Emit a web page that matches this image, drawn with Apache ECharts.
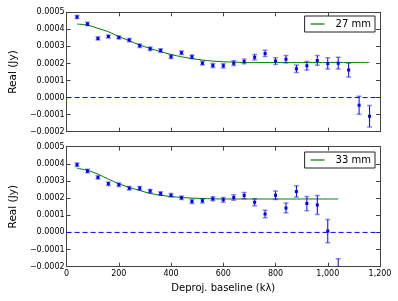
<!DOCTYPE html>
<html><head><meta charset="utf-8">
<script src="https://cdn.jsdelivr.net/npm/echarts@6/dist/echarts.min.js"></script>
<style>html,body{margin:0;padding:0;background:#fff}#c{width:398px;height:301px}</style>
</head><body><div id="c"></div>
<script>
const xTop = [40,80,120,160,200,240,280,320,360,400,440,480,520,560,600,640,680,720,760,800,840,880,920,960,1000,1040,1080,1120,1160];
const realTop = [0.000472,0.000432,0.000347,0.000358,0.000352,0.000337,0.000304,0.000286,0.000276,0.000239,0.000263,0.000239,0.000202,0.000188,0.000186,0.000202,0.000212,0.000237,0.000259,0.000214,0.000225,0.000169,0.000186,0.000218,0.000200,0.000202,0.000161,-0.000045,-0.000110];
const errTop = [0.000009,0.000009,0.000009,0.000009,0.000009,0.000009,0.00001,0.00001,0.00001,0.00001,0.00001,0.000011,0.000011,0.000012,0.000012,0.000014,0.000014,0.000016,0.000018,0.00002,0.000022,0.000022,0.000025,0.000029,0.000033,0.000035,0.000041,0.000053,0.000063];
const modelTop = [0.000431,0.000425,0.000406,0.000386,0.000358,0.000333,0.000308,0.000288,0.000269,0.000253,0.000239,0.000229,0.000220,0.000214,0.000210,0.000208,0.000206,0.000206,0.000206,0.000206,0.000206,0.000206,0.000206,0.000206,0.000206,0.000206,0.000206,0.000206,0.000206];

const xBot = [40,80,120,160,200,240,280,320,360,400,440,480,520,560,600,640,680,720,760,800,840,880,920,960,1000,1040];
const realBot = [0.000395,0.000358,0.000321,0.000284,0.000278,0.000258,0.000258,0.000241,0.000227,0.000217,0.000202,0.000180,0.000184,0.000196,0.000190,0.000204,0.000215,0.000176,0.000108,0.000217,0.000143,0.000239,0.000168,0.000160,0.000008,-0.000233];
const errBot = [0.00001,0.00001,0.00001,0.00001,0.00001,0.00001,0.00001,0.00001,0.00001,0.00001,0.00001,0.000012,0.000012,0.000012,0.000014,0.000016,0.000018,0.00002,0.000022,0.000025,0.000029,0.000033,0.000041,0.000055,0.000068,0.00008];
const modelBot = [0.000374,0.000362,0.000340,0.000311,0.000284,0.000262,0.000245,0.000227,0.000217,0.000209,0.000204,0.000200,0.000198,0.000196,0.000195,0.000195,0.000195,0.000195,0.000195,0.000195,0.000195,0.000195,0.000195,0.000195,0.000195,0.000195];

const legendTop = '27 mm';
const legendBot = '33 mm';
const yLabel = 'Real (Jy)';
const xLabel = 'Deproj. baseline (kλ)';

const FONT = 'DejaVu Sans';
const AX = '#444';

function renderErr(params, api) {
  const x = api.value(0), y = api.value(1), e = api.value(2);
  const p = api.coord([x, y]);
  const hi = api.coord([x, y + e]);
  const lo = api.coord([x, y - e]);
  const cw = 2.5;
  return {type: 'group', children: [
    {type: 'line', shape: {x1: p[0], y1: hi[1], x2: p[0], y2: lo[1]}, style: {stroke: '#0000ff', lineWidth: 1}},
    {type: 'line', shape: {x1: p[0] - cw, y1: hi[1], x2: p[0] + cw, y2: hi[1]}, style: {stroke: 'rgba(0,0,255,0.45)', lineWidth: 1.5}},
    {type: 'line', shape: {x1: p[0] - cw, y1: lo[1], x2: p[0] + cw, y2: lo[1]}, style: {stroke: 'rgba(0,0,255,0.45)', lineWidth: 1.5}},
    {type: 'rect', shape: {x: p[0] - 1.5, y: p[1] - 1.5, width: 3, height: 3}, style: {fill: '#0000ff'}}
  ]};
}

function fmtY(v) {
  const r = Math.round(v * 10000) / 10000;
  let s = Math.abs(r).toFixed(4);
  return (r < 0 ? '\u2212' : '') + s;
}

function xAx(grid, pos, labels, name) {
  return {
    type: 'value', gridIndex: grid, position: pos, min: 0, max: 1200, interval: 200,
    axisLine: {show: true, onZero: false, lineStyle: {color: AX, width: 1}},
    axisTick: {show: true, inside: true, length: 4, lineStyle: {color: AX}},
    axisLabel: {show: labels, color: '#000', fontFamily: FONT, fontSize: 8, margin: 3},
    splitLine: {show: false},
    name: name || '', nameLocation: 'middle', nameGap: 17,
    nameTextStyle: {fontFamily: FONT, fontSize: 10, color: '#000'}
  };
}
function yAx(grid, pos, labels, name) {
  return {
    type: 'value', gridIndex: grid, position: pos, min: -0.0002, max: 0.0005, interval: 0.0001,
    axisLine: {show: true, onZero: false, lineStyle: {color: AX, width: 1}},
    axisTick: {show: true, inside: true, length: 4, lineStyle: {color: AX}},
    axisLabel: {show: labels, color: '#000', fontFamily: FONT, fontSize: 8, margin: 2, formatter: fmtY},
    splitLine: {show: false},
    name: name || '', nameLocation: 'middle', nameGap: 41,
    nameTextStyle: {fontFamily: FONT, fontSize: 10.5, color: '#000'}
  };
}

function errData(xs, ys, es) { return xs.map((x, i) => [x, ys[i], es[i]]); }
function lineData(xs, ys) { return xs.map((x, i) => [x, ys[i]]); }

function legendOpt(name, top) {
  return {
    data: [{name: name, icon: 'rect'}], right: 23, top: top, orient: 'vertical',
    backgroundColor: '#fff', borderColor: '#222', borderWidth: 1, borderRadius: 0,
    padding: [3, 4, 3, 6], itemWidth: 14, itemHeight: 1.2,
    itemStyle: {color: '#008000', borderWidth: 0},
    textStyle: {fontFamily: FONT, fontSize: 10, color: '#000', padding: [0, 0, 0, 6]},
    selectedMode: false
  };
}

const chart = echarts.init(document.getElementById('c'), null, {renderer: 'canvas'});
chart.setOption({
  animation: false,
  backgroundColor: '#fff',
  grid: [
    {left: 59.3, top: 12.3, width: 320.7, height: 119.4},
    {left: 59.3, top: 146.7, width: 320.7, height: 120}
  ],
  xAxis: [xAx(0, 'bottom', false), xAx(0, 'top', false), xAx(1, 'bottom', true, xLabel), xAx(1, 'top', false)],
  yAxis: [yAx(0, 'left', true, yLabel), yAx(0, 'right', false), yAx(1, 'left', true, yLabel), yAx(1, 'right', false)],
  legend: [legendOpt(legendTop, 16), legendOpt(legendBot, 152)],
  series: [
    {type: 'line', name: '_zero0', xAxisIndex: 0, yAxisIndex: 0, data: [[0, 0], [1200, 0]], symbol: 'none',
      lineStyle: {color: '#0000ff', width: 1, type: [5, 3]}, silent: true, z: 1},
    {type: 'line', name: '_zero1', xAxisIndex: 2, yAxisIndex: 2, data: [[0, 0], [1200, 0]], symbol: 'none',
      lineStyle: {color: '#0000ff', width: 1, type: [5, 3]}, silent: true, z: 1},
    {type: 'custom', name: 'err0', xAxisIndex: 0, yAxisIndex: 0, renderItem: renderErr, clip: true,
      data: errData(xTop, realTop, errTop), z: 3},
    {type: 'custom', name: 'err1', xAxisIndex: 2, yAxisIndex: 2, renderItem: renderErr, clip: true,
      data: errData(xBot, realBot, errBot), z: 3},
    {type: 'line', name: legendTop, xAxisIndex: 0, yAxisIndex: 0, data: lineData(xTop, modelTop), symbol: 'none',
      smooth: 0.3, lineStyle: {color: '#008000', width: 1}, itemStyle: {color: '#008000'}, z: 2},
    {type: 'line', name: legendBot, xAxisIndex: 2, yAxisIndex: 2, data: lineData(xBot, modelBot), symbol: 'none',
      smooth: 0.3, lineStyle: {color: '#008000', width: 1}, itemStyle: {color: '#008000'}, z: 2}
  ]
});
</script>
</body></html>
